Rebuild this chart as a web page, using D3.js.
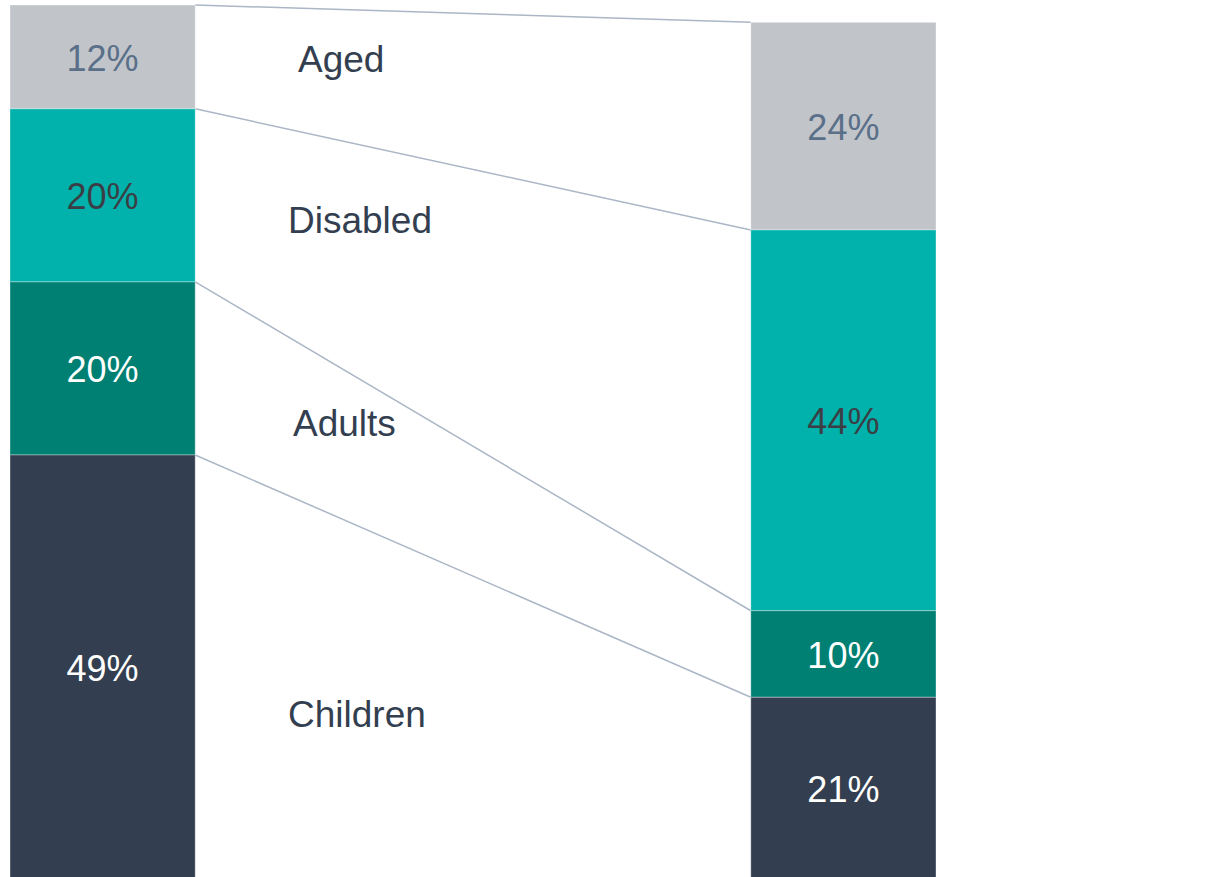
<!DOCTYPE html>
<html>
<head>
<meta charset="utf-8">
<script src="https://cdn.jsdelivr.net/npm/d3@7"></script>
<style>
  body { margin: 0; background: #fff; }
  svg { display: block; font-family: "Liberation Sans", Arial, sans-serif; }
</style>
</head>
<body>
<div id="chart"></div>
<script>
// data
var categories = ['Aged', 'Disabled', 'Adults', 'Children'];
var groups = ['before', 'after'];
var beforeValues = [12, 20, 20, 49];
var afterValues = [24, 44, 10, 21];

// styling per category
var fills = ['#c1c5ca', '#00b2ab', '#007f73', '#333f50'];
var textFills = ['#5a6f88', '#3b3f45', '#ffffff', '#ffffff'];
// where the category names sit (layout, not data)
var labelLayout = [
  { x: 298, y: 72 },
  { x: 288, y: 233 },
  { x: 293, y: 436 },
  { x: 288, y: 727 }
];

var width = 1209, height = 877;

var svg = d3.select('#chart').append('svg')
  .attr('width', width)
  .attr('height', height);

var x = d3.scaleBand()
  .domain(groups)
  .range([10, 936])
  .paddingInner(0.75);  // two bars, wide gap between

// bars bottom aligned, shared scale (totals are 101 and 99), base runs just past the bottom edge
var y = d3.scaleLinear()
  .domain([0, 101])
  .range([879, 5]);

function stackUp(values) {
  // stack from bottom: last category (Children) sits at bottom
  var out = [], acc = 0;
  for (var i = values.length - 1; i >= 0; i--) {
    out[i] = { cat: i, v: values[i], y0: acc, y1: acc + values[i] };
    acc += values[i];
  }
  return out;
}

var stacks = {
  before: stackUp(beforeValues),
  after: stackUp(afterValues)
};

var bw = x.bandwidth();

// connectors: from top of each left segment to top of matching right segment
svg.append('g').selectAll('line')
  .data(categories.map(function(c, i) { return i; }))
  .enter().append('line')
  .attr('x1', x('before') + bw)
  .attr('y1', function(i) { return y(stacks.before[i].y1); })
  .attr('x2', x('after'))
  .attr('y2', function(i) { return y(stacks.after[i].y1); })
  .attr('stroke', '#abb6c6')
  .attr('stroke-width', 1.5);

groups.forEach(function(g) {
  var gEl = svg.append('g');
  gEl.selectAll('rect')
    .data(stacks[g])
    .enter().append('rect')
    .attr('x', x(g))
    .attr('width', bw)
    .attr('y', function(d) { return y(d.y1); })
    .attr('height', function(d) { return y(d.y0) - y(d.y1); })
    .attr('fill', function(d) { return fills[d.cat]; })
    .attr('stroke', 'rgba(255,255,255,0.35)')
    .attr('stroke-width', 1);

  gEl.selectAll('text')
    .data(stacks[g])
    .enter().append('text')
    .attr('x', x(g) + bw / 2)
    .attr('y', function(d) { return (y(d.y0) + y(d.y1)) / 2 + 14; })
    .attr('text-anchor', 'middle')
    .attr('font-size', 36)
    .attr('fill', function(d) { return textFills[d.cat]; })
    .text(function(d) { return d.v + '%'; });
});

svg.append('g').selectAll('text')
  .data(categories)
  .enter().append('text')
  .attr('x', function(d, i) { return labelLayout[i].x; })
  .attr('y', function(d, i) { return labelLayout[i].y; })
  .attr('font-size', 37)
  .attr('fill', '#333f50')
  .text(function(d) { return d; });
</script>
</body>
</html>
